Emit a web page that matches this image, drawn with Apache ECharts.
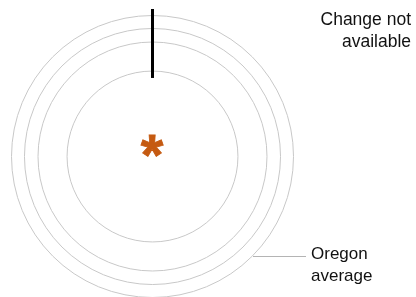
<!DOCTYPE html>
<html><head><meta charset="utf-8">
<script src="https://cdn.jsdelivr.net/npm/echarts@6/dist/echarts.min.js"></script>
<style>html,body{margin:0;padding:0;background:#fff}#c{width:416px;height:297px}</style>
</head><body><div id="c"></div>
<script>
// Ring values (Oregon average is the outer ring), in relative units
var ringNames = ['Oregon average', 'Ring 2', 'Ring 3', 'Ring 4'];
var ringValues = [100, 90.8, 81.2, 60.6];
// "Change not available" bar: [start, end] on radius axis
var changeBar = [55.7, 104.6];
var centerMark = '*';

var chart = echarts.init(document.getElementById('c'), null, {renderer: 'canvas'});
var font = 'Arial, "Liberation Sans", sans-serif';
chart.setOption({
  animation: false,
  polar: { center: [152.5, 156.5], radius: 155.1 },
  angleAxis: { type: 'value', min: 0, max: 360, startAngle: 90, clockwise: true, show: false },
  radiusAxis: { type: 'value', min: 0, max: 110, show: false },
  series: [
    {
      type: 'custom', coordinateSystem: 'polar', silent: true,
      data: ringValues.map(function (v) { return [v, 0]; }),
      renderItem: function (params, api) {
        var c = api.coord([0, 0]);
        var p = api.coord([api.value(0), 0]);
        var r = Math.hypot(p[0] - c[0], p[1] - c[1]);
        return { type: 'circle', shape: { cx: c[0], cy: c[1], r: r },
          style: { fill: null, stroke: '#c8c8c8', lineWidth: 1 } };
      }
    },
    {
      type: 'custom', coordinateSystem: 'polar', silent: true,
      data: [[changeBar[0], changeBar[1]]],
      renderItem: function (params, api) {
        var a = api.coord([api.value(0), 0]);
        var b = api.coord([api.value(1), 0]);
        return { type: 'line', shape: { x1: a[0], y1: a[1], x2: b[0], y2: b[1] },
          style: { stroke: '#000', lineWidth: 3 } };
      }
    },
    {
      type: 'custom', coordinateSystem: 'polar', silent: true,
      data: [[0, 0]],
      renderItem: function (params, api) {
        var c = api.coord([0, 0]);
        return { type: 'text', x: c[0] - 0.5, y: c[1] + 2.5,
          style: { text: centerMark, fill: '#c55a11', font: 'bold 58px ' + font, align: 'center', verticalAlign: 'middle', stroke: '#c55a11', lineWidth: 0.8 } };
      }
    }
  ],
  graphic: [
    { type: 'line', shape: { x1: 253, y1: 256.5, x2: 306, y2: 256.5 }, style: { stroke: '#b4b4b4', lineWidth: 1 } },
    { type: 'text', x: 311, y: 243, style: { text: 'Oregon\naverage', font: '17px ' + font, fill: '#111', lineHeight: 22, verticalAlign: 'top' } },
    { type: 'text', x: 411, y: 9, style: { text: 'Change not\navailable', font: '17.5px ' + font, fill: '#111', lineHeight: 22, align: 'right', verticalAlign: 'top' } }
  ]
});
</script></body></html>
